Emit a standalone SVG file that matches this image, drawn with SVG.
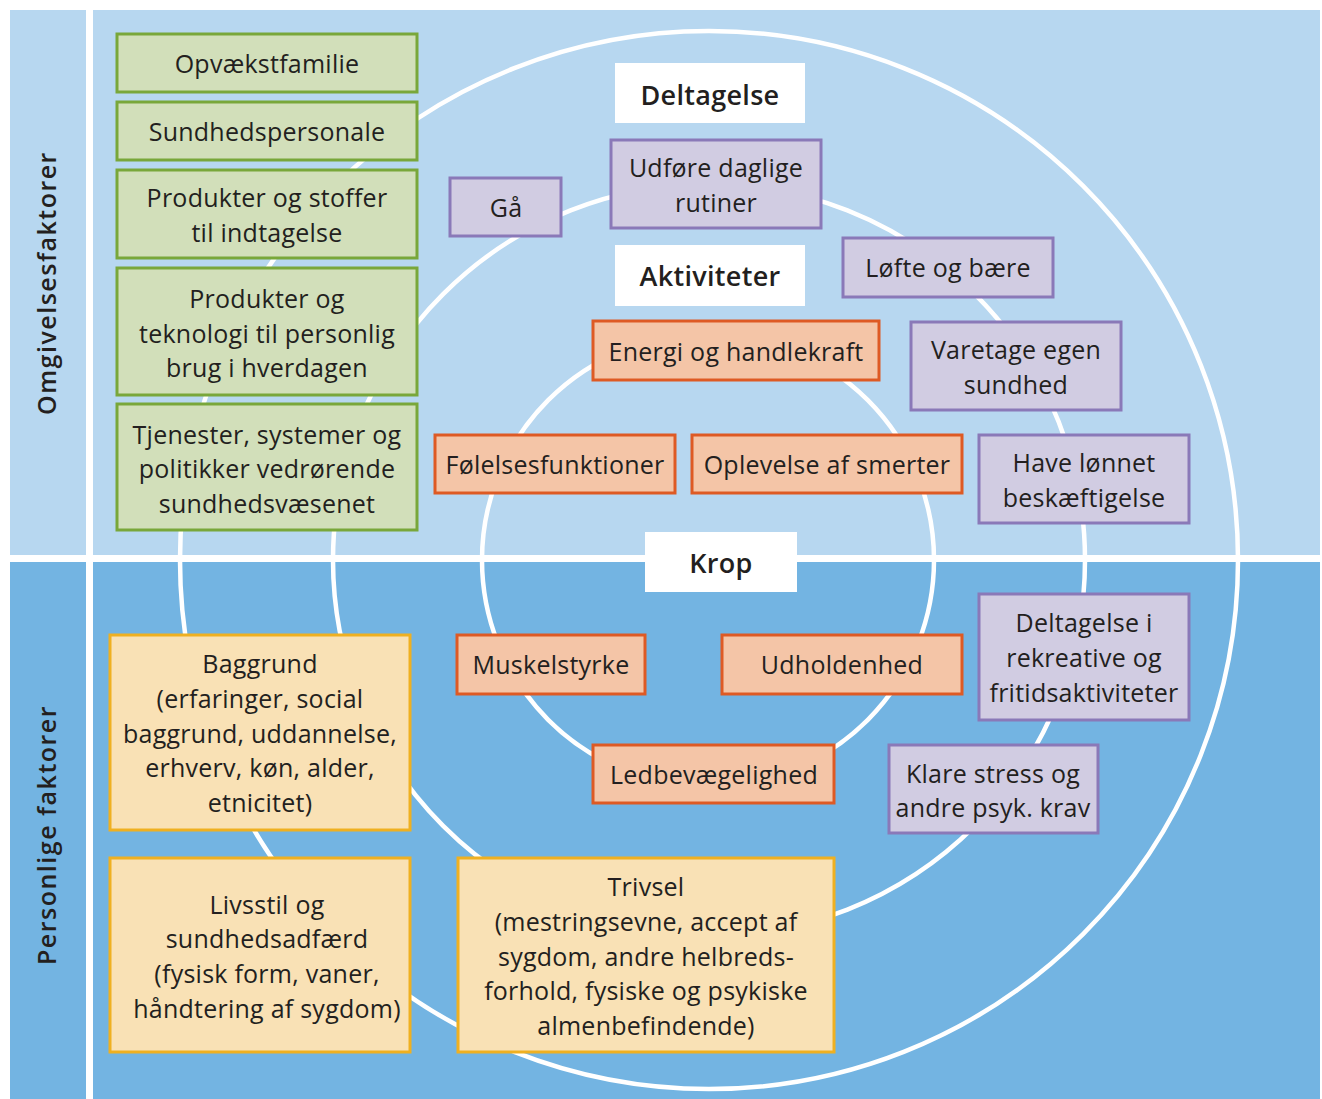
<svg xmlns="http://www.w3.org/2000/svg" width="1322" height="1099" viewBox="0 0 1322 1099">
<style>
text{font-family:"Open Sans","DejaVu Sans",sans-serif;font-size:25px;letter-spacing:0.25px;fill:#231f20;text-anchor:middle}
.h{font-weight:600;font-size:27px;letter-spacing:0.3px}
.side{font-weight:600;font-size:25px;letter-spacing:1.5px}
.g{fill:#d2dfba;stroke:#79a73a;stroke-width:3}
.p{fill:#d1cce2;stroke:#8a79b8;stroke-width:3}
.o{fill:#f4c5a7;stroke:#de5a24;stroke-width:3}
.y{fill:#f9e1b5;stroke:#efb021;stroke-width:3}
.w{fill:#fff}
.ring{fill:none;stroke:#fff;stroke-width:4.5}
</style>
<rect width="1322" height="1099" fill="#fff"/>
<g id="background">
<rect x="10" y="10" width="76" height="545" fill="#b7d7f0"/>
<rect x="93" y="10" width="1227" height="545" fill="#b7d7f0"/>
<rect x="10" y="562" width="76" height="537" fill="#73b4e2"/>
<rect x="93" y="562" width="1227" height="537" fill="#73b4e2"/>
</g>
<g id="rings">
<circle class="ring" cx="709" cy="560" r="529"/>
<circle class="ring" cx="709" cy="560" r="376"/>
<circle class="ring" cx="708" cy="560" r="226"/>
</g>
<g id="side-labels">
<text class="side" transform="translate(56,283) rotate(-90)">Omgivelsesfaktorer</text>
<text class="side" transform="translate(56,835) rotate(-90)">Personlige faktorer</text>
</g>
<g id="n-opvaekst"><rect class="g" x="117" y="34" width="300" height="58"/><text x="267" y="73">Opvækstfamilie</text></g>
<g id="n-sundhedspersonale"><rect class="g" x="117" y="102" width="300" height="58"/><text x="267" y="141">Sundhedspersonale</text></g>
<g id="n-produkter-stoffer"><rect class="g" x="117" y="170" width="300" height="88"/><text x="267" y="207">Produkter og stoffer</text><text x="267" y="242">til indtagelse</text></g>
<g id="n-produkter-teknologi"><rect class="g" x="117" y="268" width="300" height="127"/><text x="267" y="308">Produkter og</text><text x="267" y="343">teknologi til personlig</text><text x="267" y="377">brug i hverdagen</text></g>
<g id="n-tjenester"><rect class="g" x="117" y="404" width="300" height="126"/><text x="267" y="444">Tjenester, systemer og</text><text x="267" y="478">politikker vedrørende</text><text x="267" y="513">sundhedsvæsenet</text></g>
<g id="l-deltagelse"><rect class="w" x="615" y="63" width="190" height="60"/><text class="h" x="710" y="105">Deltagelse</text></g>
<g id="l-aktiviteter"><rect class="w" x="615" y="245" width="190" height="61"/><text class="h" x="710" y="286">Aktiviteter</text></g>
<g id="l-krop"><rect class="w" x="645" y="532" width="152" height="60"/><text class="h" x="721" y="573">Krop</text></g>
<g id="n-ga"><rect class="p" x="450" y="178" width="111" height="58"/><text x="506" y="217">Gå</text></g>
<g id="n-udfore"><rect class="p" x="611" y="140" width="210" height="88"/><text x="716" y="177">Udføre daglige</text><text x="716" y="212">rutiner</text></g>
<g id="n-lofte"><rect class="p" x="843" y="238" width="210" height="59"/><text x="948" y="277">Løfte og bære</text></g>
<g id="n-varetage"><rect class="p" x="911" y="322" width="210" height="88"/><text x="1016" y="359">Varetage egen</text><text x="1016" y="394">sundhed</text></g>
<g id="n-have"><rect class="p" x="979" y="435" width="210" height="88"/><text x="1084" y="472">Have lønnet</text><text x="1084" y="507">beskæftigelse</text></g>
<g id="n-rekreative"><rect class="p" x="979" y="594" width="210" height="126"/><text x="1084" y="632">Deltagelse i</text><text x="1084" y="667">rekreative og</text><text x="1084" y="702">fritidsaktiviteter</text></g>
<g id="n-klare"><rect class="p" x="889" y="745" width="209" height="88"/><text x="993" y="783">Klare stress og</text><text x="993" y="817">andre psyk. krav</text></g>
<g id="n-energi"><rect class="o" x="593" y="321" width="286" height="59"/><text x="736" y="361">Energi og handlekraft</text></g>
<g id="n-folelse"><rect class="o" x="435" y="435" width="240" height="58"/><text x="555" y="474">Følelsesfunktioner</text></g>
<g id="n-oplevelse"><rect class="o" x="692" y="435" width="270" height="58"/><text x="827" y="474">Oplevelse af smerter</text></g>
<g id="n-muskel"><rect class="o" x="457" y="635" width="188" height="59"/><text x="551" y="674">Muskelstyrke</text></g>
<g id="n-udholdenhed"><rect class="o" x="722" y="635" width="240" height="59"/><text x="842" y="674">Udholdenhed</text></g>
<g id="n-led"><rect class="o" x="593" y="745" width="241" height="58"/><text x="714" y="784">Ledbevægelighed</text></g>
<g id="n-baggrund"><rect class="y" x="110" y="635" width="300" height="195"/><text x="260" y="673">Baggrund</text><text x="260" y="708">(erfaringer, social</text><text x="260" y="743">baggrund, uddannelse,</text><text x="260" y="777">erhverv, køn, alder,</text><text x="260" y="812">etnicitet)</text></g>
<g id="n-livsstil"><rect class="y" x="110" y="858" width="300" height="194"/><text x="267" y="914">Livsstil og</text><text x="267" y="948">sundhedsadfærd</text><text x="267" y="983">(fysisk form, vaner,</text><text x="267" y="1018">håndtering af sygdom)</text></g>
<g id="n-trivsel"><rect class="y" x="458" y="858" width="376" height="194"/><text x="646" y="896">Trivsel</text><text x="646" y="931">(mestringsevne, accept af</text><text x="646" y="966">sygdom, andre helbreds-</text><text x="646" y="1000">forhold, fysiske og psykiske</text><text x="646" y="1035">almenbefindende)</text></g>
</svg>
